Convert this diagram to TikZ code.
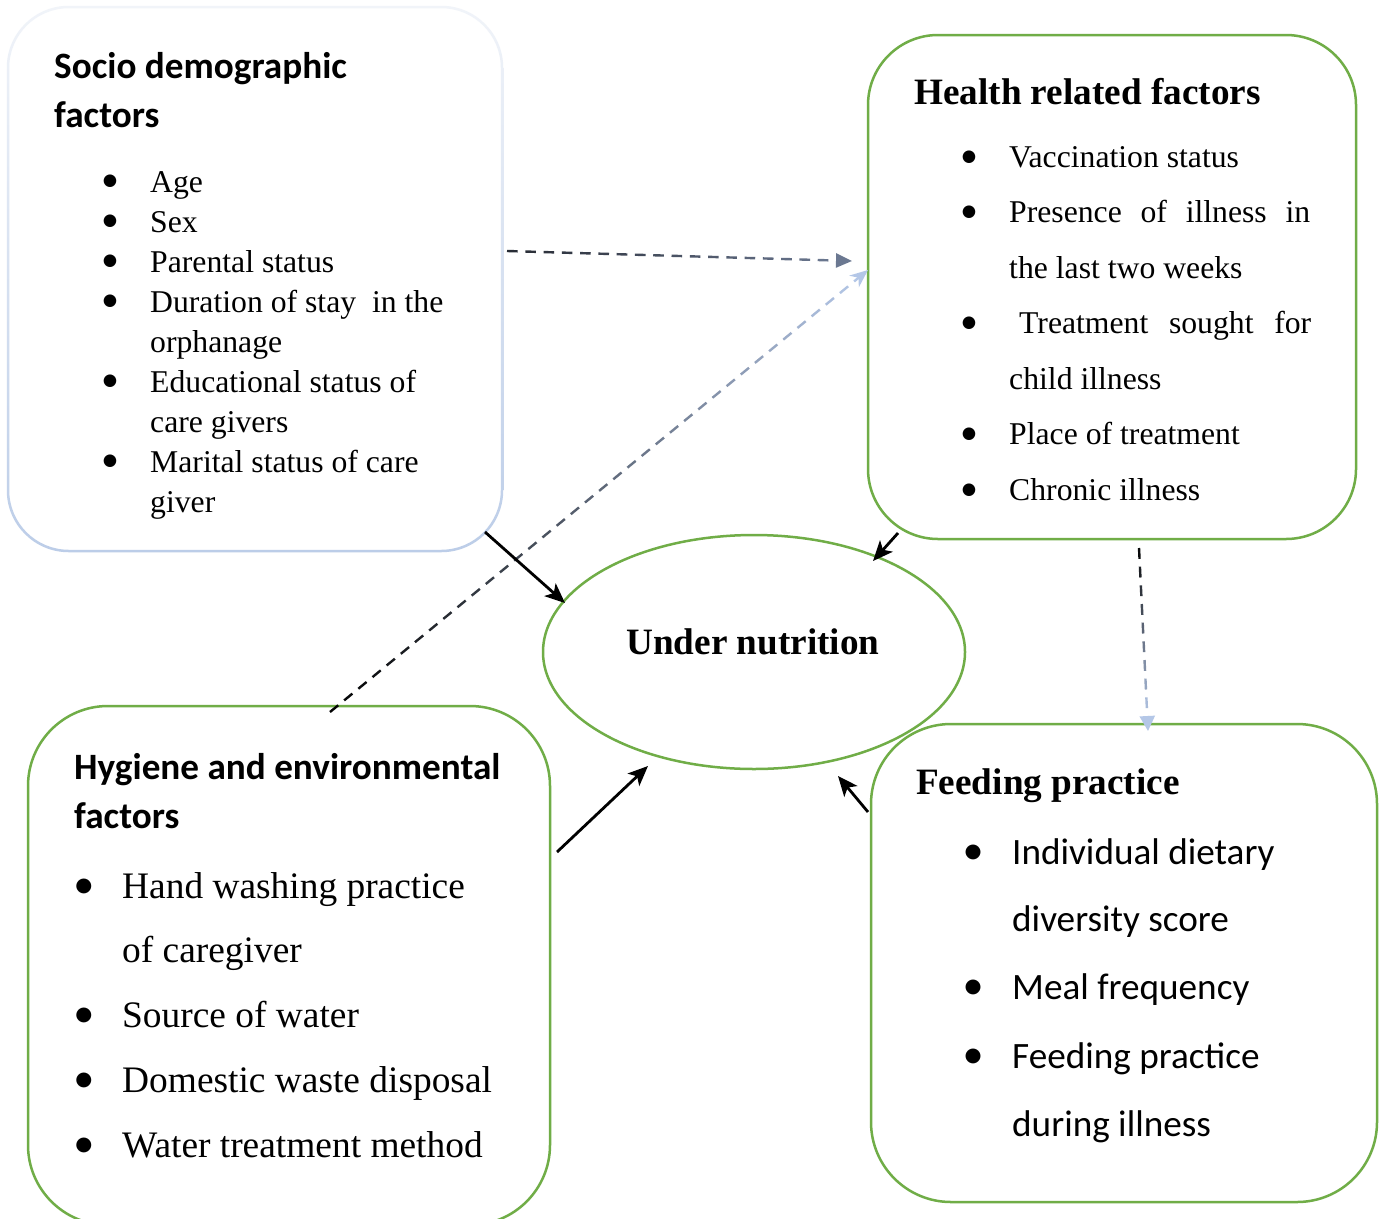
\documentclass[tikz,border=0pt]{standalone}
\usepackage{fontspec}
\setmainfont{Liberation Serif}
\newfontfamily\carlito{Carlito}
\newfontfamily\dejavu{DejaVu Sans}
\usetikzlibrary{calc,arrows.meta,shapes.geometric}

\definecolor{boxgreen}{HTML}{70AD47}
\definecolor{paleblue}{HTML}{B4C7E7}
\definecolor{slate}{HTML}{6B7891}
\definecolor{inkdark}{HTML}{262A33}
\definecolor{rimtop}{HTML}{F1F4F9}
\definecolor{rimbot}{HTML}{BCCDE8}

% dashed connector whose colour runs from #4 to #5, ending in a tip
% #1 start, #2 tip, #3 number of dashes, #6 tip length, #7 tip width, #8 tip kind
\newcommand\fadearrow[8]{%
  \coordinate (fa-base) at ($(#2)!#6!(#1)$);
  \foreach \k in {1,...,#3}{%
    \pgfmathsetmacro\ta{(\k-1)/#3}%
    \pgfmathsetmacro\tb{(\k-0.42)/#3}%
    \pgfmathtruncatemacro\pc{100*(\k-0.5)/#3}%
    \colorlet{dashcol}{#5!\pc!#4}%
    \draw[dashcol, line width=2.4pt] ($(#1)!\ta!(fa-base)$) -- ($(#1)!\tb!(fa-base)$);
  }
  \draw[#5, line width=2.4pt, -{#8[length=#6,width=#7]}] (fa-base) -- (#2);
}

\tikzset{
  greenbox/.style={draw=boxgreen, line width=2.5pt, rectangle, inner sep=0pt},
  txt/.style={anchor=base west, inner sep=0pt, font=\fontsize{31.7}{38}\selectfont},
  bigtxt/.style={anchor=base west, inner sep=0pt, font=\fontsize{37.4}{44}\selectfont},
  sanstxt/.style={anchor=base west, inner sep=0pt, font=\carlito\fontsize{37.2}{44}\selectfont},
  headserif/.style={anchor=base west, inner sep=0pt, font=\fontsize{37.2}{44}\selectfont\bfseries},
  headsans/.style={anchor=base west, inner sep=0pt, font=\carlito\fontsize{37.2}{44}\selectfont\bfseries},
  dot/.style={anchor=center, inner sep=0pt, font=\dejavu\fontsize{16.5}{17}\selectfont},
  bigdot/.style={anchor=center, inner sep=0pt, font=\dejavu\fontsize{19.5}{20}\selectfont},
  solidarrow/.style={draw=black, line width=2.8pt, -{Stealth[length=20pt,width=17pt,inset=5pt]}},
}

\begin{document}
\begin{tikzpicture}[x=1pt,y=-1pt]
\useasboundingbox[fill=white] (0,0) rectangle (1380,1218);

% ---------- boxes ----------
\node[inner sep=0pt, minimum width=494pt, minimum height=544pt] (socio) at (255,279) {};
\shade[top color=rimtop, bottom color=rimbot, even odd rule]
  [rounded corners=62pt] (6.75,5.75) rectangle (503.25,552.25)
  [rounded corners=59.5pt] (9.25,8.25) rectangle (500.75,549.75);

\node[greenbox, rounded corners=70pt, minimum width=488pt, minimum height=504pt] (health) at (1112,287) {};
\node[greenbox, rounded corners=80pt, minimum width=522pt, minimum height=519pt] (hygiene) at (289,965.5) {};
\node[greenbox, rounded corners=80pt, minimum width=506pt, minimum height=478pt] (feeding) at (1124,963) {};
\node[draw=boxgreen, line width=2.5pt, ellipse, inner sep=0pt, minimum width=422pt, minimum height=234pt] (undernut) at (754,652) {};

% ---------- socio demographic factors ----------
\node[headsans] (sdh1) at (54,78) {Socio demographic};
\node[headsans] (sdh2) at (54,127) {factors};
\foreach \y/\b/\t in {192/1/Age, 232/1/Sex, 272/1/Parental status,
    312/1/{Duration of stay\ \ in the}, 352/0/orphanage,
    392/1/Educational status of, 432/0/care givers,
    472/1/Marital status of care, 512/0/giver}{
  \ifnum\b=1 \node[dot] at (110,\y-11) {●};\fi
  \node[txt] at (150,\y) {\t};
}

% ---------- health related factors ----------
\node[headserif] (hrh) at (914,104) {Health related factors};
\foreach \y in {167,222,333,444,500}{\node[dot] at (969,\y-10) {●};}
\node[txt] at (1009,167) {Vaccination status};
\node[txt] at (1009,222) {\makebox[301pt][s]{Presence of illness in}};
\node[txt] at (1009,278) {the last two weeks};
\node[txt] at (1019,333) {\makebox[292pt][s]{Treatment sought for}};
\node[txt] at (1009,389) {child illness};
\node[txt] at (1009,444) {Place of treatment};
\node[txt] at (1009,500) {Chronic illness};

% ---------- under nutrition ----------
\node[anchor=base, inner sep=0pt, font=\fontsize{37.2}{44}\selectfont\bfseries] (untext) at (753,654) {Under nutrition};

% ---------- hygiene and environmental factors ----------
\node[headsans] (hyh1) at (74,779) {Hygiene and environmental};
\node[headsans] (hyh2) at (74,828) {factors};
\foreach \y/\b/\t in {898/1/Hand washing practice, 962/0/of caregiver,
    1027/1/Source of water, 1092/1/Domestic waste disposal,
    1157/1/Water treatment method}{
  \ifnum\b=1 \node[bigdot] at (84,\y-12) {●};\fi
  \node[bigtxt] at (122,\y) {\t};
}

% ---------- feeding practice ----------
\node[headserif] (fph) at (916,794) {Feeding practice};
\foreach \y/\b/\t in {864/1/Individual dietary, 931/0/diversity score,
    999/1/Meal frequency, 1068/1/Feeding practice, 1136/0/during illness}{
  \ifnum\b=1 \node[bigdot] at (973,\y-12) {●};\fi
  \node[sanstxt] at (1012,\y) {\t};
}

% ---------- connectors ----------
\coordinate (a1s) at (507,251);  \coordinate (a1t) at (852,261);
\coordinate (a2s) at (330,712);  \coordinate (a2t) at (868,270);
\coordinate (a3s) at (1139,548); \coordinate (a3t) at (1148,731);

\fadearrow{a1s}{a1t}{18}{inkdark}{slate}{16pt}{14pt}{Triangle}
\fadearrow{a2s}{a2t}{37}{black}{paleblue}{18pt}{15pt}{Stealth}
\fadearrow{a3s}{a3t}{9}{black}{paleblue}{15pt}{15pt}{Triangle}

\coordinate (s1) at (485,532);  \coordinate (e1) at (565,603);
\coordinate (s2) at (898,533);  \coordinate (e2) at (873,561);
\coordinate (s3) at (557,852);  \coordinate (e3) at (648,766);
\coordinate (s4) at (868,812);  \coordinate (e4) at (838,776);
\draw[solidarrow] (s1) -- (e1);
\draw[solidarrow] (s2) -- (e2);
\draw[solidarrow] (s3) -- (e3);
\draw[solidarrow] (s4) -- (e4);
\end{tikzpicture}
\end{document}
